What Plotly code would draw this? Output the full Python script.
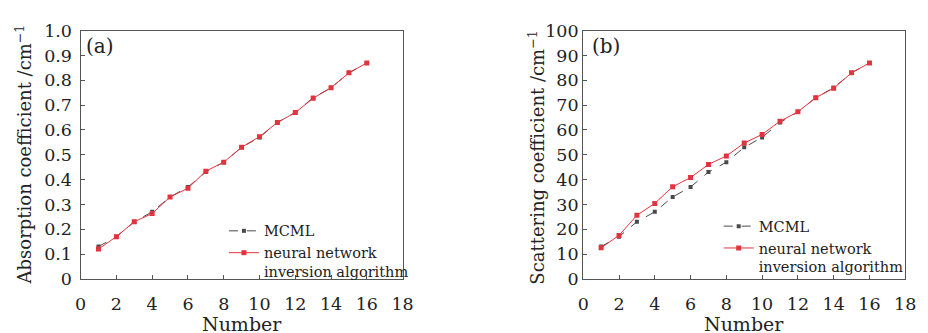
import plotly.graph_objects as go

numbers = list(range(1, 17))
abs_mcml = [0.13, 0.17, 0.23, 0.27, 0.33, 0.37, 0.43, 0.47, 0.53, 0.57, 0.63, 0.67, 0.73, 0.77, 0.83, 0.87]
abs_nn = [0.12, 0.17, 0.23, 0.263, 0.33, 0.365, 0.434, 0.47, 0.53, 0.573, 0.63, 0.67, 0.728, 0.77, 0.83, 0.87]
sca_mcml = [13, 17, 23, 27, 33, 37, 43, 47, 53, 57, 63, 67.2, 73, 77, 83, 87]
sca_nn = [12.5, 17.5, 25.6, 30.4, 37.1, 40.8, 46.1, 49.5, 54.7, 58.2, 63.5, 67.3, 73, 76.8, 83, 87]
x_ticks = [0, 2, 4, 6, 8, 10, 12, 14, 16, 18]
abs_ticks = [0, 0.1, 0.2, 0.3, 0.4, 0.5, 0.6, 0.7, 0.8, 0.9, 1.0]
abs_tick_text = ["0", "0.1", "0.2", "0.3", "0.4", "0.5", "0.6", "0.7", "0.8", "0.9", "1.0"]
sca_ticks = list(range(0, 101, 10))

W, H = 928, 333
FONT = "DejaVu Serif"
RED = "#e2343f"
GREY = "#4a4a4a"
AX = "#555555"

fig = go.Figure()

def add_pair(xa, ya, mc, nn, legend):
    fig.add_trace(go.Scatter(x=numbers, y=mc, mode="lines+markers", name="MCML",
                             line=dict(color=GREY, width=1, dash="dash"),
                             marker=dict(symbol="square", size=4, color=GREY),
                             xaxis=xa, yaxis=ya, legend=legend))
    fig.add_trace(go.Scatter(x=numbers, y=nn, mode="lines+markers",
                             name="neural network<br>inversion algorithm",
                             line=dict(color=RED, width=1),
                             marker=dict(symbol="square", size=5, color=RED),
                             xaxis=xa, yaxis=ya, legend=legend))

add_pair("x", "y", abs_mcml, abs_nn, "legend")
add_pair("x2", "y2", sca_mcml, sca_nn, "legend2")

y_dom = [1 - 286 / H, 1 - 22 / H]
common_axis = dict(showline=True, mirror=True, linecolor=AX, linewidth=1.2,
                   ticks="inside", ticklen=4, tickcolor=AX, tickwidth=1,
                   showgrid=False, zeroline=False,
                   tickfont=dict(family=FONT, size=17.5, color="#222"))

legend_common = dict(xanchor="left", yanchor="top", bgcolor="rgba(0,0,0,0)",
                     font=dict(family=FONT, size=14.5, color="#222"),
                     tracegroupgap=0, itemwidth=30, valign="top")

def text_ann(text, x, y, size, angle=0, xanchor="center"):
    return dict(text=text, textangle=angle, x=x / W, y=1 - y / H,
                xref="paper", yref="paper", xanchor=xanchor, yanchor="middle",
                showarrow=False, font=dict(family=FONT, size=size, color="#222"))

def bottom_title(text, x):
    return dict(text=text, x=x / W, y=0, xref="paper", yref="paper",
                xanchor="center", yanchor="bottom", yshift=-14,
                showarrow=False, font=dict(family=FONT, size=19, color="#222"))

fig.update_layout(
    width=W, height=H, margin=dict(l=0, r=0, t=0, b=0),
    paper_bgcolor="white", plot_bgcolor="white",
    font=dict(family=FONT, color="#222"),
    xaxis=dict(domain=[76 / W, 404 / W], range=[0, 18], tickvals=x_ticks, anchor="y",
               ticklabelstandoff=9, **common_axis),
    yaxis=dict(domain=y_dom, range=[0, 1.0], tickvals=abs_ticks, ticktext=abs_tick_text,
               anchor="x", ticklabelstandoff=4, **common_axis),
    xaxis2=dict(domain=[588 / W, 916 / W], range=[0, 18], tickvals=x_ticks, anchor="y2",
                ticklabelstandoff=9, **common_axis),
    yaxis2=dict(domain=y_dom, range=[0, 100], tickvals=sca_ticks, anchor="x2",
                ticklabelstandoff=0, **common_axis),
    legend=dict(x=222 / W, y=1 - 218 / H, **legend_common),
    legend2=dict(x=726 / W, y=1 - 213 / H, **legend_common),
    annotations=[
        text_ann("Absorption coefficient /cm<sup>−1</sup>", 18, 154, 18, angle=-90),
        text_ann("Scattering coefficient /cm<sup>−1</sup>", 540, 157, 18, angle=-90),
        bottom_title("Number", 240),
        bottom_title("Number", 752),
        text_ann("(a)", 79, 38, 20, xanchor="left"),
        text_ann("(b)", 595, 38, 20, xanchor="left"),
    ],
)

fig.write_html("out.html")
